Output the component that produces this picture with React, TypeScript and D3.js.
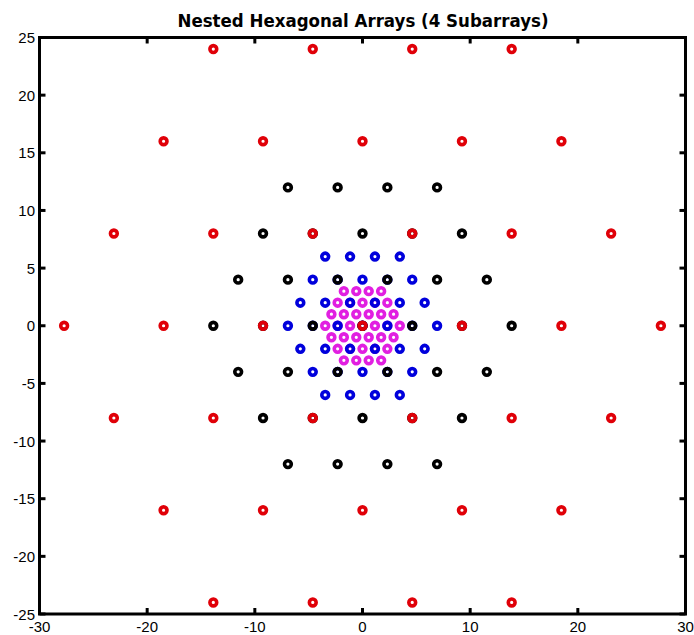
import React from "react";
import * as d3 from "d3";

// Element positions of the four nested hexagonal subarrays, listed row by row.
type Row = { y: number; x: number[] };

const innerRows: Row[] = [
  { y: 3, x: [-1.732, -0.577, 0.577, 1.732] },
  { y: 2, x: [-2.309, -1.155, 0, 1.155, 2.309] },
  { y: 1, x: [-2.887, -1.732, -0.577, 0.577, 1.732, 2.887] },
  { y: 0, x: [-3.464, -2.309, -1.155, 0, 1.155, 2.309, 3.464] },
  { y: -1, x: [-2.887, -1.732, -0.577, 0.577, 1.732, 2.887] },
  { y: -2, x: [-2.309, -1.155, 0, 1.155, 2.309] },
  { y: -3, x: [-1.732, -0.577, 0.577, 1.732] },
];

const secondRows: Row[] = [
  { y: 6, x: [-3.464, -1.155, 1.155, 3.464] },
  { y: 4, x: [-4.619, -2.309, 0, 2.309, 4.619] },
  { y: 2, x: [-5.774, -3.464, -1.155, 1.155, 3.464, 5.774] },
  { y: 0, x: [-6.928, -4.619, -2.309, 0, 2.309, 4.619, 6.928] },
  { y: -2, x: [-5.774, -3.464, -1.155, 1.155, 3.464, 5.774] },
  { y: -4, x: [-4.619, -2.309, 0, 2.309, 4.619] },
  { y: -6, x: [-3.464, -1.155, 1.155, 3.464] },
];

const thirdRows: Row[] = [
  { y: 12, x: [-6.928, -2.309, 2.309, 6.928] },
  { y: 8, x: [-9.238, -4.619, 0, 4.619, 9.238] },
  { y: 4, x: [-11.547, -6.928, -2.309, 2.309, 6.928, 11.547] },
  { y: 0, x: [-13.856, -9.238, -4.619, 0, 4.619, 9.238, 13.856] },
  { y: -4, x: [-11.547, -6.928, -2.309, 2.309, 6.928, 11.547] },
  { y: -8, x: [-9.238, -4.619, 0, 4.619, 9.238] },
  { y: -12, x: [-6.928, -2.309, 2.309, 6.928] },
];

const outerRows: Row[] = [
  { y: 24, x: [-13.856, -4.619, 4.619, 13.856] },
  { y: 16, x: [-18.475, -9.238, 0, 9.238, 18.475] },
  { y: 8, x: [-23.094, -13.856, -4.619, 4.619, 13.856, 23.094] },
  { y: 0, x: [-27.713, -18.475, -9.238, 0, 9.238, 18.475, 27.713] },
  { y: -8, x: [-23.094, -13.856, -4.619, 4.619, 13.856, 23.094] },
  { y: -16, x: [-18.475, -9.238, 0, 9.238, 18.475] },
  { y: -24, x: [-13.856, -4.619, 4.619, 13.856] },
];

// Drawn in this order, so the outer subarray sits on top.
const subarrays = [
  { name: "inner", rows: innerRows, color: "#e11fe1" },
  { name: "second", rows: secondRows, color: "#0000dc" },
  { name: "third", rows: thirdRows, color: "#000000" },
  { name: "outer", rows: outerRows, color: "#e00008" },
];

const xTicks = [-30, -20, -10, 0, 10, 20, 30];
const yTicks = [-25, -20, -15, -10, -5, 0, 5, 10, 15, 20, 25];

const title = "Nested Hexagonal Arrays (4 Subarrays)";

const W = 694;
const H = 635;
const left = 39.5;
const right = 685.5;
const top = 37.5;
const bottom = 614;

export default function App() {
  const x = d3.scaleLinear().domain([-30, 30]).range([left, right]);
  const y = d3.scaleLinear().domain([-25, 25]).range([bottom, top]);
  const tickLen = 6;
  const axisFont = "'Liberation Sans', Arial, sans-serif";

  return (
    <svg
      width={W}
      height={H}
      style={{ position: "absolute", left: 0, top: 0, background: "#fff" }}
    >
      <rect x={0} y={0} width={W} height={H} fill="#fff" />
      <text
        x={(left + right) / 2 + 0.5}
        y={26.5}
        textAnchor="middle"
        fontFamily="'DejaVu Sans', Verdana, sans-serif"
        fontWeight="bold"
        fontSize={18}
        textLength={371}
        lengthAdjust="spacingAndGlyphs"
        fill="#000"
      >
        {title}
      </text>

      {/* tick marks, pointing inward on all four sides */}
      <g stroke="#000" strokeWidth={3}>
        {xTicks.map((t) => (
          <g key={"xt" + t}>
            <line x1={x(t)} x2={x(t)} y1={bottom} y2={bottom - tickLen} />
            <line x1={x(t)} x2={x(t)} y1={top} y2={top + tickLen} />
          </g>
        ))}
        {yTicks.map((t) => (
          <g key={"yt" + t}>
            <line x1={left} x2={left + tickLen} y1={y(t)} y2={y(t)} />
            <line x1={right} x2={right - tickLen} y1={y(t)} y2={y(t)} />
          </g>
        ))}
      </g>

      {/* element markers */}
      {subarrays.map((s) => (
        <g key={s.name} stroke={s.color} fill="none" strokeWidth={3.6}>
          {s.rows.flatMap((row) =>
            row.x.map((xv, i) => (
              <circle key={row.y + "_" + i} cx={x(xv)} cy={y(row.y)} r={3.4} />
            ))
          )}
        </g>
      ))}

      {/* axes box */}
      <rect
        x={left}
        y={top}
        width={right - left}
        height={bottom - top}
        fill="none"
        stroke="#000"
        strokeWidth={3}
      />

      {/* tick labels */}
      <g fontFamily={axisFont} fontSize={15} fill="#000">
        {xTicks.map((t) => (
          <text key={"xl" + t} x={x(t)} y={631.5} textAnchor="middle">
            {t}
          </text>
        ))}
        {yTicks.map((t) => (
          <text
            key={"yl" + t}
            x={35}
            y={y(t)}
            textAnchor="end"
            dominantBaseline="central"
          >
            {t}
          </text>
        ))}
      </g>
    </svg>
  );
}
